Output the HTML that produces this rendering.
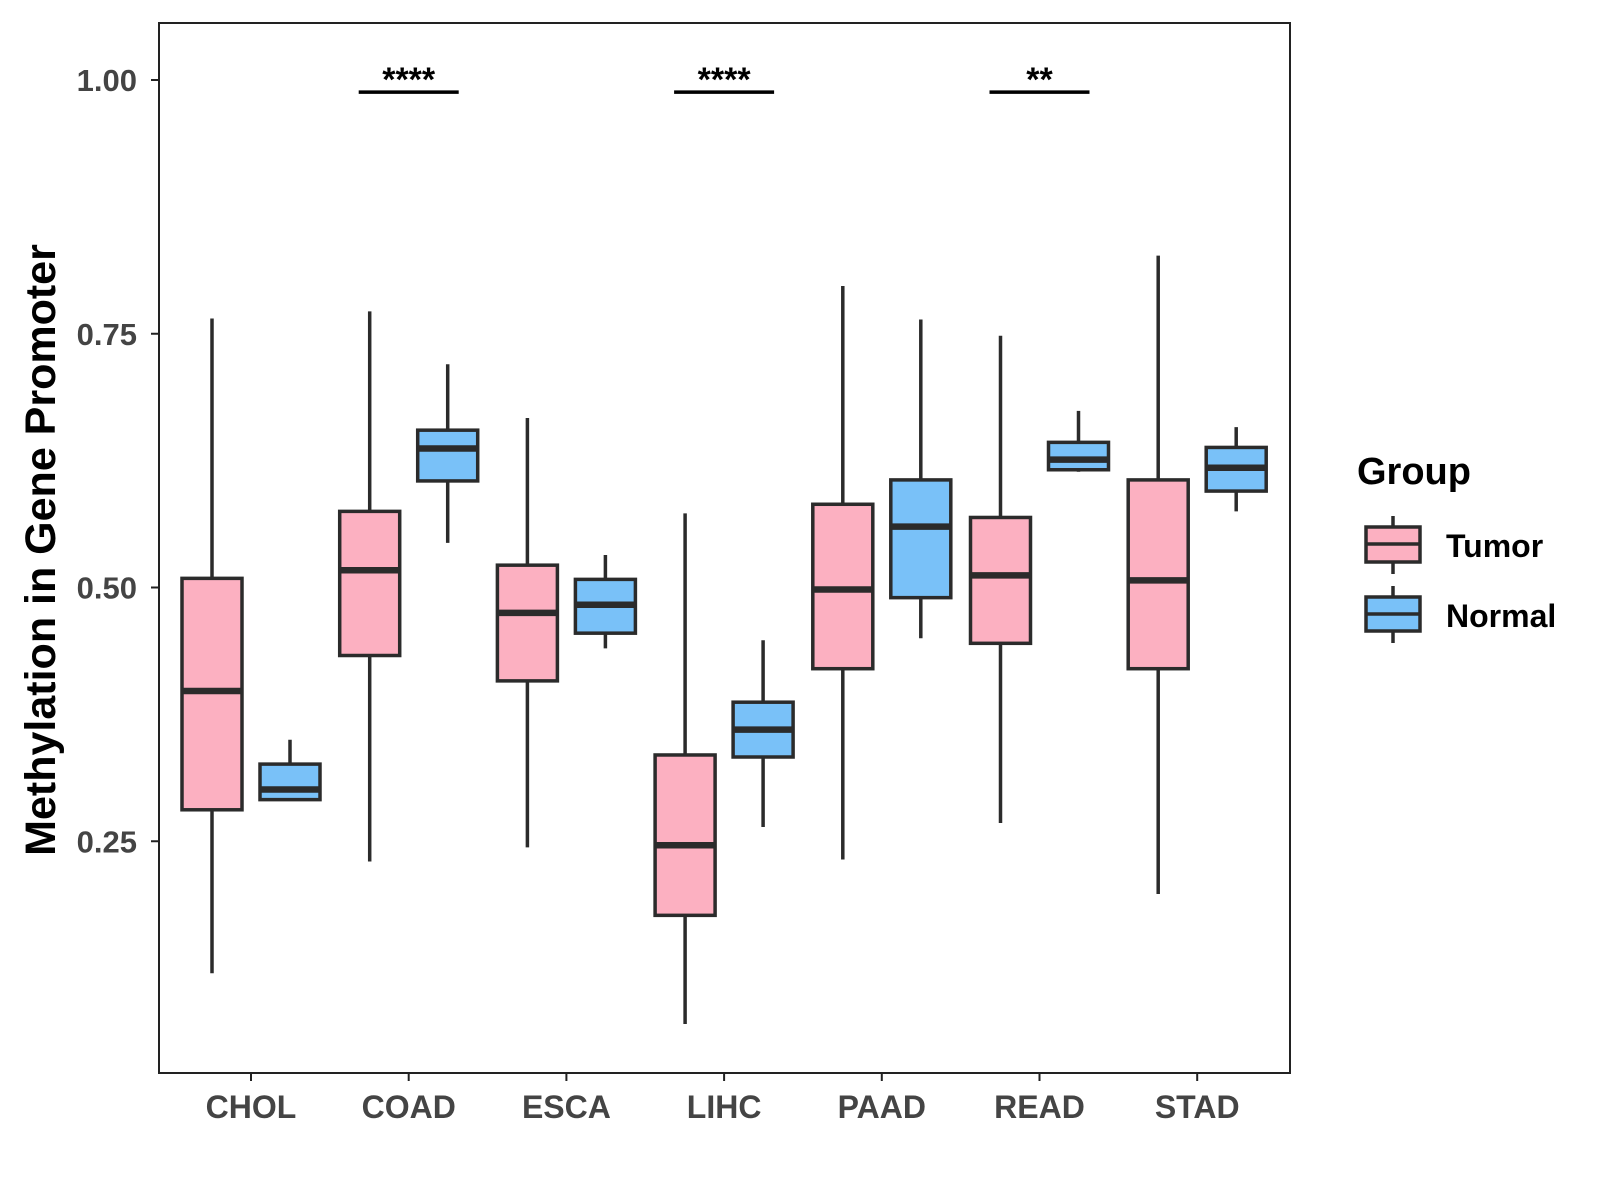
<!DOCTYPE html>
<html><head><meta charset="utf-8"><style>
body{margin:0;background:#fff}
svg{display:block;font-family:"Liberation Sans",Arial,sans-serif}
</style></head><body>
<svg id="chart" width="1600" height="1200" viewBox="0 0 1600 1200">
<rect x="159" y="23" width="1131" height="1050" fill="none" stroke="#222" stroke-width="2"/>
<g id="marks"></g>
<text transform="translate(55,550) rotate(-90)" text-anchor="middle" font-size="43" font-weight="bold" fill="#000">Methylation in Gene Promoter</text>
<g>
<text x="1357" y="484" font-size="38" font-weight="bold">Group</text>
<g>
<line x1="1393" y1="516" x2="1393" y2="574" stroke="#2b2b2b" stroke-width="3.5"/>
<rect x="1366" y="527" width="54" height="35" fill="#fcb0c1" stroke="#2b2b2b" stroke-width="3.5"/>
<line x1="1366" y1="544" x2="1420" y2="544" stroke="#2b2b2b" stroke-width="3.5"/>
<text x="1446" y="557" font-size="32" font-weight="bold">Tumor</text></g>
<g>
<line x1="1393" y1="586" x2="1393" y2="643" stroke="#2b2b2b" stroke-width="3.5"/>
<rect x="1366" y="597" width="54" height="34" fill="#79c1f8" stroke="#2b2b2b" stroke-width="3.5"/>
<line x1="1366" y1="614" x2="1420" y2="614" stroke="#2b2b2b" stroke-width="3.5"/>
<text x="1446" y="627" font-size="32" font-weight="bold">Normal</text></g>
</g>
</svg>
<script>
const categories=["CHOL","COAD","ESCA","LIHC","PAAD","READ","STAD"];
// [low, q1, median, q3, high]
const tumorStats=[[0.12,0.281,0.398,0.509,0.765],[0.23,0.433,0.517,0.575,0.772],[0.244,0.408,0.475,0.522,0.667],[0.07,0.177,0.246,0.335,0.573],[0.232,0.42,0.498,0.582,0.797],[0.268,0.445,0.512,0.569,0.748],[0.198,0.42,0.507,0.606,0.827]];
const normalStats=[[0.291,0.291,0.301,0.326,0.35],[0.544,0.605,0.637,0.655,0.72],[0.44,0.455,0.483,0.508,0.532],[0.264,0.333,0.36,0.387,0.448],[0.45,0.49,0.56,0.606,0.764],[0.614,0.616,0.626,0.643,0.674],[0.575,0.595,0.618,0.638,0.658]];
const yTicks=[0.25,0.5,0.75,1.0];
const yTickLabels=["0.25","0.50","0.75","1.00"];
const sigLabels=["","****","","****","","**",""];
const sigLevel=0.988;

const NS="http://www.w3.org/2000/svg";
const g=document.getElementById('marks');
const yS=v=>80+(1-v)*1015;
const xS=i=>251+157.7*i;
function mk(tag,attrs,parent){const e=document.createElementNS(NS,tag);for(const k in attrs)e.setAttribute(k,attrs[k]);(parent||g).appendChild(e);return e;}
const LC="#2b2b2b";
yTicks.forEach((t,i)=>{
  const tk=mk('line',{x1:151,x2:159,y1:yS(t),y2:yS(t),stroke:'#222','stroke-width':2});
  
  
  const tx=mk('text',{x:137,y:yS(t)+11,'text-anchor':'end','font-size':31,'font-weight':'bold',fill:'#444'});
  tx.textContent=yTickLabels[i];
  
  
});
categories.forEach((c,i)=>{
  const x=xS(i);
  const tk=mk('line',{x1:x,x2:x,y1:1073,y2:1081,stroke:'#222','stroke-width':2});
  
  
  const tx=mk('text',{x:x,y:1118,'text-anchor':'middle','font-size':32,'font-weight':'bold',fill:'#444'});
  tx.textContent=c;
  
  
  [[tumorStats[i],-39,'#fcb0c1','tumor'],[normalStats[i],39,'#79c1f8','normal']].forEach(([s,off,fill,nm])=>{
    const cx=x+off,w=60;
    const bg=mk('g',{});
    
    
    mk('line',{x1:cx,x2:cx,y1:yS(s[0]),y2:yS(s[4]),stroke:LC,'stroke-width':3.5},bg);
    mk('rect',{x:cx-w/2,y:yS(s[3]),width:w,height:yS(s[1])-yS(s[3]),fill:fill,stroke:LC,'stroke-width':3.5},bg);
    mk('line',{x1:cx-w/2,x2:cx+w/2,y1:yS(s[2]),y2:yS(s[2]),stroke:LC,'stroke-width':6.5},bg);
  });
  if(sigLabels[i]){
    const ln=mk('line',{x1:x-50,x2:x+50,y1:yS(sigLevel),y2:yS(sigLevel),stroke:'#000','stroke-width':3.5});
    
    
    const st=mk('text',{x:x,y:yS(sigLevel)-1,'text-anchor':'middle','font-size':34,'font-weight':'bold',fill:'#000'});
    st.textContent=sigLabels[i];
    
    
  }
});
</script>
</body></html>
